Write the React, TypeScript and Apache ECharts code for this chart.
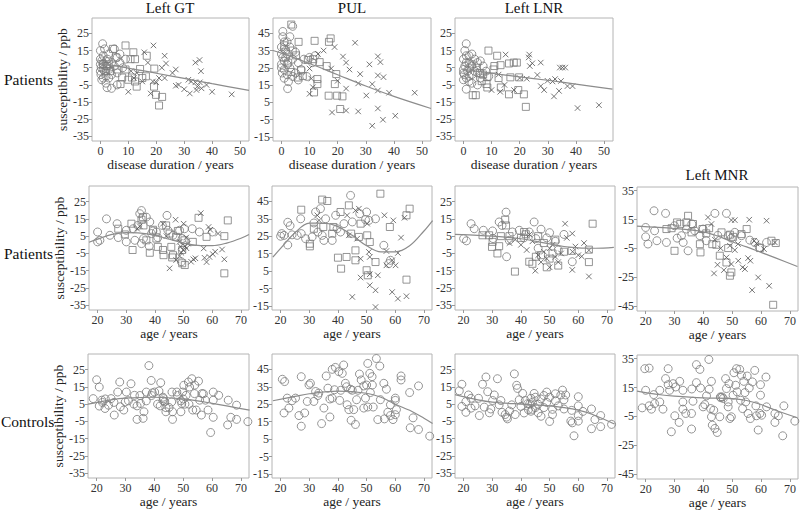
import React, { useEffect, useRef } from "react";
import * as echarts from "echarts";

// ---------- tick labels ----------
const durationTicks = [0, 10, 20, 30, 40, 50];
const ageTicks = [20, 30, 40, 50, 60, 70];
const yTicksA = [-35, -25, -15, -5, 5, 15, 25];
const yTicksPUL = [-15, -5, 5, 15, 25, 35, 45];
const yTicksMNR = [-45, -25, -5, 15, 35];

// ---------- titles ----------
const columnTitles = ["Left GT", "PUL", "Left LNR", "Left MNR"];
const rowLabels = ["Patients", "Patients", "Controls"];
const xNameDuration = "disease duration / years";
const xNameAge = "age / years";
const yName = "susceptibility / ppb";

// ---------- Row 1: patients vs disease duration ----------
const gtDurCircles = [[0,15],[0.8,19],[1,12],[0.5,9],[0,7],[0.3,5],[1.5,3],[0.2,1],[1,-1],[2,-4],[0.5,-2],[2.5,10],[3,13],[4,8],[5,16],[5,6],[6,11],[6,2],[7,8],[2.4,-6.6],[2,6],[1,4],[4,1],[3,-1],[8,5],[1.5,16],[0,10],[2,0],[6,-5],[7,13],[9,10],[0,3],[1,7],[2,9],[3,4],[4,-7]];
const gtDurSquares = [[9,18],[11.8,14],[12.4,10],[16.6,12],[19.3,4.5],[19.2,-6],[19.9,-10.8],[22.1,-12],[21,-17],[12.4,-3],[13,-6],[14.2,4.3],[16.3,0],[4.5,16],[7.2,-4.5],[7.8,-0.7],[3.6,3],[9,4],[10.8,10],[2.4,6],[11.3,-0.7],[10,-2],[5.5,11],[3,7],[15,-1],[6,4],[1,7],[2,3]];
const gtDurCrosses = [[15.7,14],[19,18],[23,12],[23.5,7.5],[22,5],[25.8,2],[27,4],[23,-1],[18.8,-3],[20,-3.5],[10,-9],[18,-10],[27,-5.5],[28,-5],[30,-7.5],[31.5,-2],[32.5,-3],[34,-3.5],[34.7,-6],[32,-10],[34.4,-8],[34,8],[35.5,9.5],[36,3],[36.2,-7],[38,-5],[40,-9],[47,-10.5],[35.6,-3.5],[15,-3],[13,2],[11,3],[12,-1],[17,8],[21,-1]];
const gtDurFit = [[0,7.5],[10,4.8],[20,1.8],[30,-1.2],[40,-4.3],[53.2,-8.2]];

const pulDurCircles = [[0.5,46],[4,49],[0.5,43],[1,40],[0,37],[1.5,35],[2,33],[0.5,31],[1,29],[0,27],[2,27],[3,25],[1,24],[0.3,22],[2,21],[1,19],[2.5,17],[2.2,13],[4,30],[5,34],[6,28],[7,24],[5,22],[8,30],[10,31],[11,28],[12,32],[9,20],[3,37],[4,20],[6,18],[1.5,31],[0,33],[2,40],[3,43],[0,25],[1,36]];
const pulDurSquares = [[3.5,50],[6.1,40],[11.8,40.6],[16.9,40],[17.5,42],[11.3,30],[13.6,28.3],[16.1,26],[9.4,29.5],[7.6,20.3],[5.8,19.4],[12.8,18.5],[12.8,15.6],[11.6,10.8],[16.8,8.9],[19.8,8.9],[19,15.6],[19.5,21.4],[21.7,8.5],[20.9,1.2],[2.4,28],[3.5,22.6],[5.2,32.2],[7,23.5],[1,38],[4,35]];
const pulDurCrosses = [[18.9,37],[26.2,39.5],[21.9,31.5],[23,28],[24.2,24],[28,21.4],[31.3,27],[34.3,31.6],[35.2,28.3],[34.3,20.6],[36.3,19.6],[27.3,16],[32.3,15.6],[34.3,11.9],[38.3,10.6],[47.4,10.6],[30.2,9],[23,13],[23,0.3],[18,-0.8],[27.3,-0.2],[34.3,1.5],[36.1,-5],[40.5,-2.7],[32.3,-8.5],[10,24.6],[10.6,18.8],[10,10],[17.7,24.6],[11.2,13.8],[20,17.5],[13,33],[15,35]];
const pulDurFit = [[-3,35],[0,33.5],[10,27.5],[20,21],[30,14.5],[40,8.5],[53.2,1.5]];

const lnrDurCircles = [[1,19],[0,10],[1,8],[0.5,6],[0,4],[1.5,3],[0.3,1],[1,-1],[0,-2],[2,-3],[1,-7.5],[3,13],[2,12],[4,10],[5,8],[6,9],[3,6],[4,3],[5,2],[6,-1],[2,0],[3,-4],[7,6],[5,-5],[2,5],[0,2],[1,12],[8,3],[9,0],[0.5,15],[3,1],[2,8]];
const lnrDurSquares = [[8.9,15],[12,12],[13.2,6.5],[16.2,7.5],[17.9,8],[19,8],[8.5,-0.5],[8.2,-4.5],[8.5,-6.5],[13.3,-6.5],[16.2,-10.5],[19.5,-8],[21.5,-10.5],[22.2,-17.8],[16.7,-0.6],[19.8,-0.6],[3.3,-11],[4.4,-11],[5.9,2],[4.8,5],[10.7,4],[12.5,-1],[6.5,-2.8],[2.9,7],[11,6],[7,1]];
const lnrDurCrosses = [[15,12.7],[23.4,12.7],[23.2,11],[23.6,6],[24.5,7.6],[27.5,8],[26.3,0.8],[22.5,-1.4],[27.5,-5.7],[28.7,-8],[29.9,-2.6],[31.7,-3],[32.6,-1.6],[34.7,-2.7],[34.3,5.1],[35.2,5.1],[36.2,5.1],[32.2,-11.7],[34,-8.5],[37,-5.7],[38.8,-5.7],[40.6,-18.5],[48.2,-16.8],[13.1,-9],[18,-8],[12.5,1],[14.6,-5],[10,-8],[20,-1]];
const lnrDurFit = [[0,4],[10,1.8],[20,-0.3],[30,-2.3],[40,-4.5],[53,-7.5]];

// ---------- Row 2: patients vs age ----------
const gtAgeCircles = [[20,7.4],[20,1.7],[20.8,2.6],[23.1,15],[24.3,5.5],[26.8,12.2],[27.2,4.2],[30,8.4],[30,1.7],[32.4,9.3],[33,2.6],[34,11.2],[34.7,18],[35.3,19.8],[35.3,0.7],[36,3.6],[37,16],[38.2,13.2],[38.8,6.5],[39.3,8],[40.5,7.4],[41,4.2],[42.6,11.2],[44.2,17],[44.5,8.4],[46.3,5.5],[48.6,8.4],[49.5,3.6],[50.3,9.3],[53,9.3],[55.5,7.4],[60,7.4],[49.2,-9.8],[38,-0.8]];
const gtAgeSquares = [[27.2,9.3],[29.5,6],[31.8,12.2],[32.2,-3],[35.3,14.5],[35.8,16],[36,11.2],[39.3,8.7],[41,-1.2],[40.5,3.6],[43.9,11.2],[42.8,-3],[38.2,-4.6],[43,-6],[46.3,-6],[46,-7.3],[47.4,4.6],[48,8],[49.5,-10.7],[50.4,-11.7],[49.5,-3],[50.3,2.6],[53.2,1.7],[55.2,15.6],[58,4.6],[64.2,5],[65.4,14.1],[64.2,-16.5],[45.1,6.5],[37,2.6],[45.7,-1.2]];
const gtAgeCrosses = [[33.8,9.3],[34.7,10.7],[42.8,12.2],[47.2,14.5],[50,12.2],[56,18.3],[58.7,10.3],[59.3,8.7],[62,6.5],[45.1,-13.6],[47.4,-8.8],[48.6,-6.5],[49.2,-4.6],[49.8,-3],[50.5,-0.8],[51.5,0.7],[52.6,-9.8],[53.4,-8.4],[54.1,-7.8],[57,-2.1],[57.3,-7.5],[58,-10],[59,-7],[60.2,-5.4],[61,-4],[63.4,-2.7],[64.2,-8.4],[48.6,1.7],[50.9,4.2],[44,5],[51,-2],[49,-1]];
const gtAgeFit = [[17,1.5],[20,3.3],[25,6],[30,7],[35,6.8],[40,5.5],[45,3.2],[50,1],[55,-0.3],[60,-0.5],[65,1],[70,3.8],[72.8,6]];

const pulAgeCircles = [[20,25],[20.4,26.5],[22.5,33],[23.3,31],[22.5,20],[24,25.8],[27,35],[27.2,26.5],[28.7,23.6],[31.6,32.6],[32.2,38.9],[33.9,40.8],[35.1,22.6],[35.7,35],[38,22.6],[39.2,37],[39.7,29.3],[40.9,27.4],[44.4,48.4],[45,33.2],[47.6,37.9],[50,38.9],[53.1,35],[56,19.8],[58.3,11.2],[57.7,9.3],[21.2,25.5],[25.8,25.5],[31,24.6],[33,27.4],[34.5,25.5],[42.1,32.2],[49.6,34.5],[50.8,34.1]];
const pulAgeSquares = [[27.2,40.2],[34.5,46],[36.3,45.2],[31.6,29.3],[30.2,20.7],[30.2,19.2],[34.9,30.3],[38.4,30.3],[38,26.5],[40.9,38.9],[43.8,42.7],[44.6,26.5],[43,13.1],[40,12.7],[41.1,6.4],[46.1,16.9],[46.1,11.2],[47.9,32.2],[47.3,24.6],[50.2,25.5],[51.1,21.7],[50,5.5],[50.4,2.6],[53.1,10.2],[54.8,49.4],[58.1,30.3],[63.9,37],[65,40.8],[63.9,0.1]];
const pulAgeCrosses = [[32.8,37],[33.4,34.1],[43.2,37],[46.1,39.8],[47.3,40.8],[46.7,23.6],[43.8,25.5],[50.2,32.2],[50.8,16],[51.1,13.1],[47.9,12.1],[47.9,1.3],[51.1,3.2],[51.1,-3.1],[53.1,-6],[53.9,2.6],[56.2,37],[59.3,34.1],[56.9,16.5],[56.9,8.3],[58.9,11.2],[60.1,8.3],[60.9,15.4],[62,24.2],[63.2,35.6],[45,-9.8],[53.1,-15.6],[58.9,-7],[60.9,-10.8],[63.9,-9.4]];
const pulAgeFit = [[17.3,13],[20,18],[25,27],[30,32.5],[35,32.5],[40,30.5],[45,25.5],[50,19.5],[55,16],[60,16],[65,19.5],[70,28],[73,34]];

const lnrAgeCircles = [[20,3.6],[21,2.3],[22.6,12.2],[23.7,9.3],[26.9,8.4],[30.1,8],[30.3,3.6],[32.4,13.2],[33.4,11.2],[34.8,18.9],[35,-6.9],[35.9,2.6],[37,7.4],[39.4,8.4],[42.9,7.4],[44.6,13.2],[45.2,3.6],[47,9],[49,4],[50,7],[52,2],[55,6],[57.9,-9.8],[41,4],[46,-2],[53,-3]];
const lnrAgeSquares = [[26.6,5.5],[28.9,5.5],[30.1,1.7],[29.9,-1.2],[31.8,-5],[32.4,-0.8],[33,5],[34.5,14.5],[34.8,11.2],[36,5],[37.9,-15.5],[40,4],[41.1,7.4],[41.7,6.1],[42.9,-9.8],[45.2,-6.9],[44,-11],[47,-6],[48,1],[49,-13],[50,-8],[51,-5],[53,-12],[55,-4],[57.7,-3.5],[63.7,-2.8],[63.7,-10],[65,12.2],[46,5],[52,3]];
const lnrAgeCrosses = [[40,0],[42,-3],[44,2],[45,-15],[46,-6],[47,-10],[48,-4],[49,-8],[50,-2],[50,-13],[51,0],[52,-7],[53,-10],[54,-5],[55.4,12.2],[56,4],[57.9,6.5],[57.9,-14.5],[59,-1],[60,-6],[61.2,-6.7],[62,1],[63.7,-3.2],[63.7,-18.3],[38,3],[36,1],[43,6],[58,-4]];
const lnrAgeFit = [[17,6],[25,5.5],[30,5],[40,3.5],[50,0.5],[55,-1],[60,-1.8],[66,-2],[72.4,-1.5]];

const mnrAgeCircles = [[20,9.5],[20,3],[20.8,-2],[22.9,21.1],[23.1,7.2],[23.9,0.3],[26.9,19.3],[27.2,-0.9],[30,10.7],[30.9,2.1],[32.4,3.8],[33,-0.9],[34.7,-6.7],[34.1,8.4],[37,7.2],[38.8,3.8],[39.9,8.4],[41,0.3],[44,19.3],[48,19.3],[48.6,3.8],[49.7,2.1],[50.9,6.1],[53.2,3.8],[56.1,0.7],[57.8,-0.9],[59.4,-4.4],[61.9,-0.9],[36,12],[45,4]];
const mnrAgeSquares = [[27.2,8.4],[30,-6.7],[30.9,13],[32,12],[34.1,13],[34.7,17.6],[35.9,6.1],[36.4,11.9],[38.8,-2.1],[39,-7.8],[39.7,8.4],[43.1,-2.1],[46.3,6.1],[45.7,-10.1],[48,-14.8],[49.2,-24],[49.7,-21.7],[48.6,-4.8],[50.3,3],[53.2,4.9],[55,8.4],[59.6,-4.8],[63.6,0.3],[65.1,-1.3],[64.2,-44.2],[41,5.4],[44.5,-2.5],[49.2,4.5],[29,9],[42,9]];
const mnrAgeCrosses = [[41.6,16.5],[42.8,11.9],[49.7,14.6],[50.9,14.6],[55.9,14.9],[61.9,14.2],[43.7,-22.4],[44.9,-16.4],[47.1,-20.1],[48,-11.3],[49.7,-15.9],[50.9,-6.2],[52.1,-13.6],[53.6,-18.2],[54.4,-19.4],[55.5,-11.8],[56.3,-13.6],[56.9,-34],[59,-25.2],[61,-5.5],[62.8,-31],[64.8,-0.9],[58.4,-1.6],[57.6,0.3],[49.2,-3.2],[44,1],[52,-2],[46,-5]];
const mnrAgeFit = [[17,10.5],[30,8.8],[40,6.5],[45,3.5],[50,-0.4],[55,-4],[60,-7.8],[65,-11.6],[72.6,-17.6]];

// ---------- Row 3: controls vs age ----------
const gtCtlCircles = [[18.8,8.2],[20,19.1],[20.9,14.9],[20.9,3.9],[21.8,7.3],[22.9,2.5],[24.1,4.4],[25,8.2],[26.1,-1.3],[27.3,12],[28,17.8],[28.2,3.5],[29.4,1.6],[29.9,6.3],[30.3,12],[31.9,16.8],[32.9,5],[33.1,10.1],[34,-3.8],[35.2,5.4],[36.1,-3.2],[36.4,0.6],[37.2,6.9],[37.2,12],[38.1,27.3],[38.9,18.7],[39.3,11.5],[40.1,12],[41.1,5],[41.6,12.6],[42.2,17.4],[43.2,8.2],[43.6,6.3],[44,0.6],[45.1,3.1],[46,6.3],[46.1,12],[46.3,-3.8],[46.3,0.6],[47.8,12],[49.2,0.6],[49.2,6.9],[49.8,12],[50.2,15.9],[50.6,5],[51,10.1],[51.8,17.8],[52.2,14.9],[53,19.7],[53.3,1.6],[53.9,11.1],[54.5,1.6],[55.3,18.3],[55.7,7.3],[56.3,-1.3],[56.5,11.1],[57.7,7.3],[58.6,1.6],[59.5,-11.4],[60.4,12],[60.4,7.3],[60.4,-2.6],[62.3,10.1],[65.6,7.3],[65.4,-7],[66.5,-2.6],[68.5,-3.8],[68.5,4.4],[72.4,-5.1],[49.5,5.4],[43,9],[43,7],[42,4],[48,10],[50,8],[52,5],[54,16],[39,10],[44,3],[57,11],[35,10],[31,7],[26,6],[22,6],[23,8],[34,4]];
const gtCtlFit = [[17,5],[25,7.5],[30,8.5],[40,9],[50,8],[60,5.5],[73,1.5]];

const pulCtlCircles = [[20.6,39.3],[21.4,38],[22.3,28.5],[21.2,20],[22.9,22.8],[25.2,28.5],[26.4,18.5],[27.2,12.4],[27.2,40.8],[28.4,20],[29.3,26.6],[29.9,36.1],[30.4,37],[31.6,26.6],[32.2,32.3],[33.3,31.4],[34.3,13.9],[35.1,22.8],[35.9,41.2],[37.2,17.7],[37.2,28],[38,28.5],[38,45],[38.8,33.3],[39.1,46.1],[40.3,43.7],[40.6,27.2],[41.5,42.7],[42,47.5],[42.6,37],[43.2,24.7],[43.8,21.9],[44.4,33.6],[44.6,15.8],[45.5,21.9],[46.1,13.4],[46.5,27.6],[47.5,42.3],[48.1,38.9],[49,35.5],[49,22.8],[49.6,28.5],[50.4,48.4],[50.4,23.4],[51.1,42.7],[51.3,31.7],[51.9,40.8],[52.3,23.4],[53.4,51.2],[53.9,16.2],[54.6,46.9],[54.8,27.6],[56,37],[56.2,16.6],[56.9,33.6],[57.4,20.4],[58.3,24.7],[58.3,18.5],[59.2,16.2],[60,28.5],[60,27.2],[60.4,21.9],[60,19],[62,41.2],[62,38.9],[65,31.7],[66.2,17.2],[65.2,11.5],[68.1,35.5],[68.1,10.5],[72,6.7],[36.5,34.2],[24,27],[33,30],[45,33],[47,33],[50,36],[43,35],[41,33],[52,36]];
const pulCtlFit = [[17.3,27],[25,29.5],[30,31],[40,32.5],[50,31.3],[55,29],[60,25],[65,21.5],[70,17],[73,14]];

const lnrCtlCircles = [[18.5,12.7],[19.4,16.5],[19.4,3.7],[20.8,6.5],[20.8,0.3],[21.7,10.3],[22.6,2.7],[22.6,8.4],[25.2,8.4],[25.5,-1.6],[26.6,16.5],[27.2,3.3],[27.8,20.7],[28.4,12.2],[29.5,2.2],[30.1,7.1],[30.7,10.3],[31.8,19.7],[32.4,4.6],[33,7.1],[33.4,0.3],[34.5,-1],[35.3,-3.5],[36.8,4.6],[37.7,22.5],[38.5,15.9],[38.8,14.1],[39.4,7.5],[40,3.7],[40.6,11.2],[41.1,-0.1],[41.5,7.1],[42.3,5.2],[42.6,1.8],[43.5,8.4],[43.5,0.9],[44.6,11.2],[46,5],[47,8],[48,3],[49,6],[50,9],[50,-5],[51,2],[52,7],[52,11],[53,4],[47,-2],[49,12],[44,6],[45,3],[45,9],[46,0],[48,10],[51,-1],[43,5],[44,2],[53.9,10.3],[55,7.5],[55.6,10.3],[54.5,13.1],[55,2.2],[57.7,1.4],[57.4,-4.8],[57.9,-5.8],[58.5,-13.3],[60,9.3],[60,4],[60,-1.6],[60,-4.8],[61.6,0.8],[64.6,2.2],[64.6,-9.2],[65.8,-3.9],[67.8,-8],[67.8,-1.6],[71.6,-6.7],[36,1],[38,-1],[35,-2.5],[24,4],[29,0]];
const lnrCtlFit = [[17,10.5],[25,7.5],[30,6.2],[40,5],[50,4],[55,3],[60,1.5],[65,-1],[72.6,-6.5]];

const mnrCtlCircles = [[18.8,0.9],[19.7,28.1],[21.2,28.5],[20,13.1],[21.2,2.3],[22,0],[22.8,10.1],[23.1,3.9],[24.9,5],[24.9,13.1],[26,0],[26.9,21.2],[27.8,17],[27.8,28.1],[28.3,13.1],[28.9,-15.7],[29.5,17.7],[30.1,-4.6],[30.4,15.4],[31.6,-9.2],[31.8,19.3],[32.9,13.1],[32.9,5],[32.9,0],[33.9,-3],[35.9,-13.8],[35.9,-3],[36.4,5.5],[37.6,18.4],[37.6,30.9],[38.8,27.6],[39,14.7],[39.9,1.6],[40.5,3.2],[41.1,9.2],[41.9,34.5],[42,13.8],[42.5,0.4],[42.8,19.3],[42.8,-5.3],[43.1,-11.1],[43.6,-0.7],[44,-13.4],[44.8,-16.2],[45.7,-5.3],[45.9,8.5],[46.9,7.4],[47.7,21.2],[48,14.3],[48.6,5],[48.6,1.6],[48.9,17.7],[49.2,-6.5],[49.7,-5.3],[50.3,9.7],[50.6,25.3],[51.2,16.6],[51.5,28.1],[51.7,12],[52.6,27.6],[52.9,6.2],[53.2,23.5],[53.6,0.4],[54,19.3],[54.4,11.5],[54.7,5],[55.2,23],[55.5,-3],[55.9,14.7],[56.3,-6.5],[57,18.9],[57.8,26.9],[58.2,2.3],[58.4,-4.6],[59,-14.5],[59.6,-3],[59.8,17],[59.8,9.7],[60.2,-4.2],[61.7,22.3],[61.9,1.6],[64.8,-3],[64.8,-9.2],[66,-4.6],[67.5,-18.5],[67.9,2.3],[71.7,-8.3],[46,8],[46.5,8.5],[36,14]];
const mnrCtlFit = [[17,12.5],[25,10],[30,9],[40,7.8],[50,7.3],[55,6],[60,3.2],[65,-0.8],[72.6,-6]];

// ---------- layout (pixel boxes of each plot area) ----------
const DUR = { min: -3, max: 53.2, ticks: durationTicks, name: xNameDuration };
const AGE = { min: 17, max: 72.8, ticks: ageTicks, name: xNameAge };
const YA = { min: -37.7, max: 34, ticks: yTicksA };
const YP = { min: -17.3, max: 53.8, ticks: yTicksPUL };
const YM = { min: -48.5, max: 37.6, ticks: yTicksMNR };

const panels = [
  { box: [92, 18, 157, 123], x: DUR, y: YA, yName: true, c: gtDurCircles, s: gtDurSquares, k: gtDurCrosses, fit: gtDurFit },
  { box: [273, 18, 158, 123], x: DUR, y: YP, c: pulDurCircles, s: pulDurSquares, k: pulDurCrosses, fit: pulDurFit },
  { box: [455, 18, 158, 123], x: DUR, y: YA, c: lnrDurCircles, s: lnrDurSquares, k: lnrDurCrosses, fit: lnrDurFit },
  { box: [89, 186, 160, 124], x: AGE, y: YA, yName: true, c: gtAgeCircles, s: gtAgeSquares, k: gtAgeCrosses, fit: gtAgeFit },
  { box: [272, 186, 160, 124], x: AGE, y: YP, c: pulAgeCircles, s: pulAgeSquares, k: pulAgeCrosses, fit: pulAgeFit },
  { box: [455, 186, 160, 124], x: AGE, y: YA, c: lnrAgeCircles, s: lnrAgeSquares, k: lnrAgeCrosses, fit: lnrAgeFit },
  { box: [637, 187, 161, 124], x: AGE, y: YM, c: mnrAgeCircles, s: mnrAgeSquares, k: mnrAgeCrosses, fit: mnrAgeFit },
  { box: [88, 354, 161, 124], x: AGE, y: YA, yName: true, c: gtCtlCircles, fit: gtCtlFit },
  { box: [272, 354, 160, 124], x: AGE, y: YP, c: pulCtlCircles, fit: pulCtlFit },
  { box: [455, 354, 160, 124], x: AGE, y: YA, c: lnrCtlCircles, fit: lnrCtlFit },
  { box: [637, 355, 161, 124], x: AGE, y: YM, c: mnrCtlCircles, fit: mnrCtlFit },
];

const FONT = "Liberation Serif";
const CROSS = "path://M0,0L10,10M10,0L0,10";

function buildOption() {
  const grid: any[] = [];
  const xAxis: any[] = [];
  const yAxis: any[] = [];
  const series: any[] = [];
  panels.forEach((p, i) => {
    grid.push({
      left: p.box[0], top: p.box[1], width: p.box[2], height: p.box[3],
      show: true, borderColor: "#b4b4b4", borderWidth: 1, backgroundColor: "transparent",
    });
    const common = {
      type: "value",
      gridIndex: i,
      axisLine: { show: false, onZero: false },
      splitLine: { show: false },
      nameTextStyle: { fontFamily: FONT, fontSize: 13.5, color: "#222" },
    };
    xAxis.push({
      ...common,
      min: p.x.min, max: p.x.max,
      axisTick: { show: true, length: 3, lineStyle: { color: "#999" }, customValues: p.x.ticks },
      axisLabel: { customValues: p.x.ticks, fontFamily: FONT, fontSize: 12, color: "#333", margin: 4 },
      name: p.x.name, nameLocation: "middle", nameGap: 16,
    });
    yAxis.push({
      ...common,
      min: p.y.min, max: p.y.max,
      axisTick: { show: true, length: 3, lineStyle: { color: "#999" }, customValues: p.y.ticks },
      axisLabel: { customValues: p.y.ticks, fontFamily: FONT, fontSize: 12, color: "#333", margin: 3 },
      name: p.yName ? yName : "", nameLocation: "middle", nameGap: 18,
    });
    const hollow = (col: string) => ({ color: "rgba(0,0,0,0)", borderColor: col, borderWidth: 1 });
    series.push({
      type: "line", xAxisIndex: i, yAxisIndex: i, data: p.fit, smooth: 0.35,
      showSymbol: false, silent: true, lineStyle: { color: "#8c8c8c", width: 1.2 }, z: 3,
    });
    series.push({
      type: "scatter", xAxisIndex: i, yAxisIndex: i, data: p.c, symbol: "circle",
      symbolSize: 8, itemStyle: hollow("#7a7a7a"), silent: true, z: 2,
    });
    if (p.s) series.push({
      type: "scatter", xAxisIndex: i, yAxisIndex: i, data: p.s, symbol: "rect",
      symbolSize: 7, itemStyle: hollow("#7a7a7a"), silent: true, z: 2,
    });
    if (p.k) series.push({
      type: "scatter", xAxisIndex: i, yAxisIndex: i, data: p.k, symbol: CROSS,
      symbolSize: 5.5, itemStyle: hollow("#555"), silent: true, z: 2,
    });
  });

  const txt = (text: string, x: number, y: number, size: number, align = "center") => ({
    type: "text", x, y, silent: true,
    style: { text, fontFamily: FONT, fontSize: size, fill: "#111", textAlign: align, textVerticalAlign: "middle" },
  });

  const graphic = [
    txt(columnTitles[0], 170, 8, 15),
    txt(columnTitles[1], 352, 8, 15),
    txt(columnTitles[2], 534, 8, 15),
    txt(columnTitles[3], 717, 175, 15),
    txt(rowLabels[0], 4, 79, 15.5, "left"),
    txt(rowLabels[1], 4, 253, 15.5, "left"),
    txt(rowLabels[2], 1, 421, 15.5, "left"),
  ];

  return { animation: false, backgroundColor: "#fff", textStyle: { fontFamily: FONT }, grid, xAxis, yAxis, series, graphic };
}

export default function App() {
  const ref = useRef<HTMLDivElement>(null);
  useEffect(() => {
    document.body.style.margin = "0";
    const chart = echarts.init(ref.current!, undefined, { renderer: "svg" });
    chart.setOption(buildOption() as any);
    return () => chart.dispose();
  }, []);
  return <div ref={ref} style={{ width: 800, height: 512 }} />;
}
